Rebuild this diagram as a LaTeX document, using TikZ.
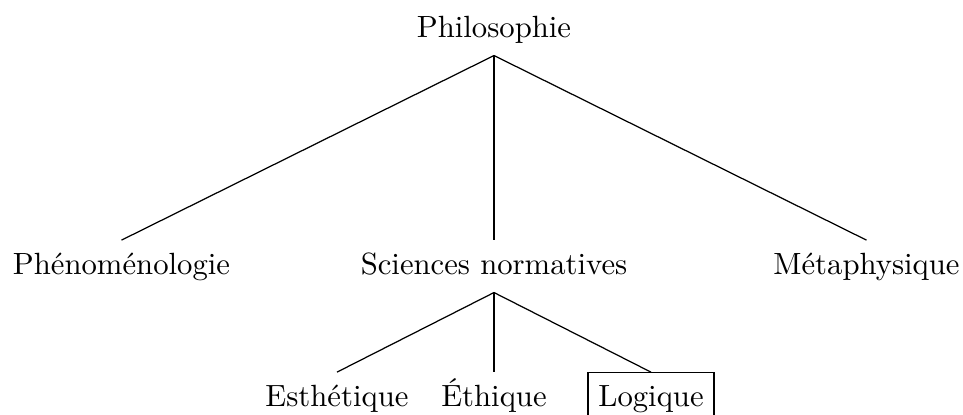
\documentclass[tikz,border=0pt]{standalone}
\begin{document}
\begin{tikzpicture}[x=0.3257pt,y=-0.3257pt,
  lbl/.style={anchor=base,inner sep=0.3333em,text height=7.5pt,text depth=2.5pt},
  boxed/.style={lbl,draw,line width=0.4pt},
  branch/.style={line width=0.4pt}]
\useasboundingbox (0,0) rectangle (963,414);
\node[lbl] (phil) at (494,37) {Philosophie};
\node[lbl] (phen) at (121.5,274) {Phénoménologie};
\node[lbl] (sci) at (494,274) {Sciences normatives};
\node[lbl] (meta) at (866.5,274) {Métaphysique};
\node[lbl] (esth) at (337,406) {Esthétique};
\node[lbl] (eth) at (494,406) {Éthique};
\node[boxed] (log) at (651,406) {Logique};
\draw[branch] (phil.south) -- (phen.north);
\draw[branch] (phil.south) -- (sci.north);
\draw[branch] (phil.south) -- (meta.north);
\draw[branch] (sci.south) -- (esth.north);
\draw[branch] (sci.south) -- (eth.north);
\draw[branch] (sci.south) -- (log.north);
\end{tikzpicture}
\end{document}
